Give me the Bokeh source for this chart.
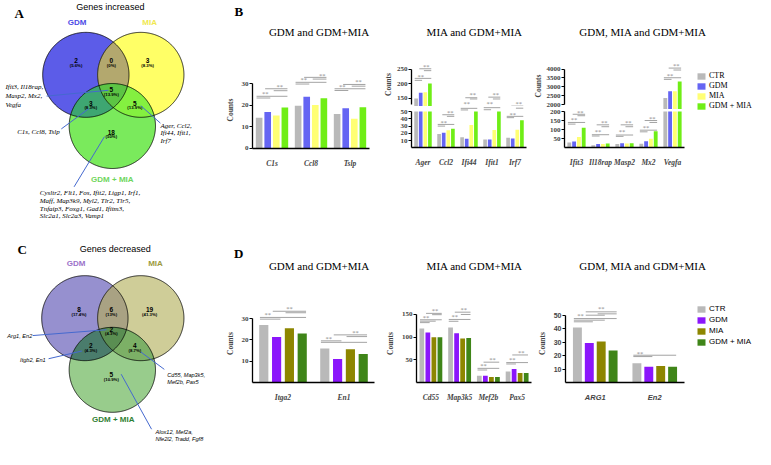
import numpy as np
from bokeh.plotting import figure
from bokeh.models import (Range1d, FactorRange, ColumnDataSource, FixedTicker,
                          Legend, LegendItem)
from bokeh.layouts import row, column
from bokeh.transform import dodge
from bokeh.core.properties import value
from bokeh.embed import file_html
from bokeh.resources import INLINE

# ============================== data ==============================
GROUPS = ["CTR", "GDM", "MIA", "GDM + MIA"]

# ---- B : genes increased (counts)
b1_genes = ["C1s", "Ccl8", "Tslp"]
b1_ctr = [14.2, 19.8, 15.9]
b1_gdm = [16.9, 24.0, 18.6]
b1_mia = [15.3, 20.2, 13.8]
b1_gdm_mia = [19.0, 23.3, 19.1]

b2_genes = ["Ager", "Ccl2", "Ifi44", "Ifit1", "Irf7"]
b2_ctr = [148, 19.0, 14.6, 11.5, 14.0]
b2_gdm = [168, 21.0, 12.5, 11.5, 13.0]
b2_mia = [170, 24.4, 31.4, 24.8, 25.0]
b2_gdm_mia = [200, 26.5, 52.0, 52.0, 38.0]

b3_genes = ["Ifit3", "Il18rap", "Masp2", "Mx2", "Vegfa"]
b3_ctr = [30, 15, 21, 23, 2378]
b3_gdm = [35.5, 22, 26, 37, 2757]
b3_mia = [60, 22, 24, 50, 2757]
b3_gdm_mia = [111, 24, 26, 92, 3297]

# ---- D : genes decreased (counts)
d1_genes = ["Itga2", "En1"]
d1_ctr = [27.0, 16.0]
d1_gdm = [21.4, 11.1]
d1_mia = [25.5, 15.6]
d1_gdm_mia = [23.0, 13.4]

d2_genes = ["Cd55", "Map3k5", "Mef2b", "Pax5"]
d2_ctr = [119.3, 121.0, 14.8, 24.6]
d2_gdm = [110.0, 108.8, 14.8, 30.0]
d2_mia = [99.6, 97.0, 12.3, 21.0]
d2_gdm_mia = [99.6, 98.4, 12.3, 21.0]

d3_genes = ["ARG1", "En2"]
d3_ctr = [40.8, 14.3]
d3_gdm = [29.3, 11.7]
d3_mia = [30.5, 12.3]
d3_gdm_mia = [23.8, 11.7]

# significance bars: (gene, from group, to group, height); stars: (gene, group pos, height)
b1_sig = [("C1s", 0, 3, 24.2), ("C1s", 0, 1, 23.4), ("C1s", 1, 3, 27.7), ("C1s", 2, 3, 26.8),
          ("Ccl8", 0, 3, 30.7), ("Ccl8", 0, 1, 29.9), ("Ccl8", 1, 3, 33.0), ("Ccl8", 2, 3, 32.2),
          ("Tslp", 0, 3, 27.7), ("Tslp", 0, 1, 26.9), ("Tslp", 1, 3, 29.7), ("Tslp", 2, 3, 28.9)]
b1_star = [("C1s", 0.7, 25.4), ("C1s", 2.4, 28.9), ("Ccl8", 0.65, 32.0), ("Ccl8", 2.8, 34.0),
           ("Tslp", 0.6, 28.9), ("Tslp", 2.5, 30.9)]
b2_sig = [("Ager", 0, 3, 217.8), ("Ager", 0, 1, 211), ("Ager", 1, 3, 251), ("Ager", 2, 3, 244.5),
          ("Ccl2", 0, 3, 32.3), ("Ccl2", 0, 1, 30.0), ("Ccl2", 1, 3, 45.6), ("Ccl2", 2, 3, 43.4),
          ("Ifi44", 0, 3, 54.4), ("Ifi44", 0, 1, 52.2), ("Ifi44", 1, 3, 151), ("Ifi44", 2, 3, 146.7),
          ("Ifit1", 0, 3, 55.3), ("Ifit1", 0, 1, 52.5), ("Ifit1", 1, 3, 153), ("Ifit1", 2, 3, 146.7),
          ("Irf7", 0, 3, 43.4), ("Irf7", 0, 1, 41.6), ("Irf7", 1, 3, 122), ("Irf7", 2, 3, 54.6)]
b2_star = [("Ager", 1.0, 225.6), ("Ager", 2.2, 260), ("Ccl2", 1.0, 35.4), ("Ccl2", 2.4, 48.0),
           ("Ifi44", 1.0, 132), ("Ifi44", 2.3, 161), ("Ifit1", 1.0, 132), ("Ifit1", 2.3, 161),
           ("Irf7", 1.0, 46.0), ("Irf7", 2.3, 132)]
b3_sig = [("Ifit3", 0, 3, 140), ("Ifit3", 0, 1, 131), ("Ifit3", 1, 3, 185), ("Ifit3", 2, 3, 177),
          ("Il18rap", 0, 3, 72.7), ("Il18rap", 0, 1, 65.6), ("Il18rap", 1, 3, 127), ("Il18rap", 2, 3, 116.7),
          ("Masp2", 0, 3, 71), ("Masp2", 0, 1, 63.7), ("Masp2", 1, 3, 127), ("Masp2", 2, 3, 116.7),
          ("Mx2", 0, 3, 97.6), ("Mx2", 0, 1, 88.6), ("Mx2", 1, 3, 150.7), ("Mx2", 2, 3, 140),
          ("Vegfa", 0, 3, 3514), ("Vegfa", 0, 1, 3423), ("Vegfa", 1, 3, 4054), ("Vegfa", 2, 3, 3946)]
b3_star = [("Ifit3", 1.0, 154), ("Ifit3", 2.3, 196), ("Il18rap", 1.0, 88.6), ("Il18rap", 2.3, 141.6),
           ("Masp2", 1.0, 88.6), ("Masp2", 2.3, 141.6), ("Mx2", 1.0, 111.4), ("Mx2", 2.3, 164.5),
           ("Vegfa", 1.0, 3638), ("Vegfa", 2.3, 4180)]
d1_sig = [("Itga2", 0, 3, 30.6), ("Itga2", 0, 1, 29.8), ("Itga2", 1, 3, 33.5), ("Itga2", 2, 3, 32.8),
          ("En1", 0, 1, 19.6), ("En1", 0, 3, 18.9), ("En1", 1, 3, 22.4), ("En1", 2, 3, 21.6)]
d1_star = [("Itga2", 0.3, 31.8), ("Itga2", 2.0, 34.7), ("En1", 0.3, 20.6), ("En1", 2.4, 23.6)]
d2_sig = [("Cd55", 0, 3, 138.3), ("Cd55", 0, 2, 135.2), ("Cd55", 0, 1, 132), ("Cd55", 1, 3, 152.4), ("Cd55", 2, 3, 149.5),
          ("Map3k5", 0, 3, 139), ("Map3k5", 0, 1, 135), ("Map3k5", 1, 3, 155), ("Map3k5", 2, 3, 150),
          ("Mef2b", 0, 3, 31.3), ("Mef2b", 0, 1, 27.7), ("Mef2b", 1, 3, 44.9),
          ("Pax5", 0, 3, 44), ("Pax5", 0, 1, 41), ("Pax5", 1, 3, 60.8)]
d2_star = [("Cd55", 0.7, 143.8), ("Cd55", 2.2, 158.6), ("Map3k5", 0.7, 145), ("Map3k5", 2.2, 160.4),
           ("Mef2b", 0.7, 36.9), ("Mef2b", 2.2, 50.4), ("Pax5", 0.7, 50.4), ("Pax5", 2.2, 65.8)]
d3_sig = [("ARG1", 0, 3, 47.5), ("ARG1", 0, 2, 46.3), ("ARG1", 0, 1, 45.1), ("ARG1", 1, 3, 52.5),
          ("ARG1", 2, 3, 51), ("ARG1", 1, 2, 50), ("En2", 0, 3, 20.3), ("En2", 0, 1, 19.3)]
d3_star = [("ARG1", 0.25, 49.6), ("ARG1", 2.0, 54.7), ("En2", 0.25, 21.9)]

# ---- Venn diagrams
inc_counts = ["2", "0", "3", "5", "3", "5", "18"]
inc_pcts = ["(5.6%)", "(0%)", "(8.3%)", "(13.9%)", "(8.3%)", "(13.9%)", "(50%)"]
dec_counts = ["8", "6", "19", "2", "2", "4", "5"]
dec_pcts = ["(17.4%)", "(13%)", "(41.3%)", "(4.3%)", "(4.3%)", "(8.7%)", "(10.9%)"]

inc_list_all = ["Ifit3, Il18rap,", "Masp2, Mx2,", "Vegfa"]
inc_list_gdm = ["C1s, Ccl8, Tslp"]
inc_list_mia = ["Ager, Ccl2,", "Ifi44, Ifit1,", "Irf7"]
inc_list_only = ["Cysltr2, Flt1, Fos, Ifit2, Ligp1, Irf1,", "Maff, Map3k9, Myl2, Tlr2, Tlr5,",
                 "Tnfaip3, Foxg1, Gad1, Ifitm3,", "Slc2a1, Slc2a3, Vamp1"]
dec_list_all = ["Arg1, En2"]
dec_list_gdm = ["Itgb2, En1"]
dec_list_mia = ["Cd55, Map3k5,", "Mef2b, Pax5"]
dec_list_only = ["Alox12, Mef2a,", "Nfe2l2, Tradd, Fgf8"]

# ============================== layout helpers ==============================
W_OUT, H_OUT, W_REF, H_REF = 755, 449, 771, 465
SERIF, SANS = "Liberation Serif", "Liberation Sans"
COL_UP = ["#b9b9b9", "#6565f3", "#ffff74", "#6fee16"]
COL_DOWN = ["#b9b9b9", "#8b16fb", "#8d8600", "#3f8518"]
LEFT_W = 210   # reference width of the Venn column


def ix(v):
    return int(round(v * W_OUT / W_REF))


def iy(v):
    return int(round(v * H_OUT / H_REF))


def fy(v):
    return v * H_OUT / H_REF


def base(fxr, fyr, frame, x_range, y_range, xloc="below", yloc="left"):
    fx0, fx1 = fxr
    fy0, fy1 = fyr
    px0, px1, py0, py1 = frame
    p = figure(width=ix(fx1) - ix(fx0), height=iy(fy1) - iy(fy0),
               x_range=x_range, y_range=y_range,
               x_axis_location=xloc, y_axis_location=yloc,
               output_backend="svg", toolbar_location=None,
               min_border_left=ix(px0) - ix(fx0), min_border_right=ix(fx1) - ix(px1),
               min_border_top=iy(py0) - iy(fy0), min_border_bottom=iy(fy1) - iy(py1))
    p.grid.visible = False
    p.outline_line_color = None
    return p


def plain(fxr, fyr):
    """figure whose frame fills it, with reference-pixel coordinates (y down)"""
    return base(fxr, fyr, (fxr[0], fxr[1], fyr[0], fyr[1]), Range1d(*fxr),
                Range1d(fyr[1], fyr[0]), xloc=None, yloc=None)


def val_at(t, ya, va, yb, vb):
    ta, tb = fy(ya), fy(yb)
    return va + (t - ta) * (vb - va) / (tb - ta)


def lin_range(py0, py1, ya, va, yb, vb):
    return Range1d(val_at(iy(py1), ya, va, yb, vb), val_at(iy(py0), ya, va, yb, vb))


def draw_bars(p, genes, series, colors, step, bw, cap=None):
    data = {"gene": genes}
    for j, s in enumerate(series):
        v = np.array(s, dtype=float)
        data["v%d" % j] = np.minimum(v, cap) if cap is not None else v
    src = ColumnDataSource(data)
    for j, c in enumerate(colors):
        p.vbar(x=dodge("gene", (j - 1.5) * step, range=p.x_range), top="v%d" % j,
               width=bw, source=src, fill_color=c, line_color=None)


def draw_sig(p, lines, stars, step):
    lo, hi = p.y_range.start, p.y_range.end
    lines = [l for l in lines if lo <= l[3] <= hi]
    stars = [s for s in stars if lo <= s[2] <= hi]
    if lines:
        x0 = [(g, (a - 1.5) * step - 0.3 * step) for g, a, b, y in lines]
        x1 = [(g, (b - 1.5) * step + 0.3 * step) for g, a, b, y in lines]
        yy = [y for g, a, b, y in lines]
        p.segment(x0=x0, y0=yy, x1=x1, y1=yy, line_color="#a3a3a3", line_width=1.0)
    if stars:
        sx = [(g, (gp - 1.5) * step) for g, gp, y in stars]
        sy = [y for g, gp, y in stars]
        p.text(x=sx, y=sy, text=["**"] * len(stars), text_font=value(SERIF),
               text_font_size="6.5px", text_color="#8a8a8a", text_align="center",
               text_baseline="middle")


def style_y(p, ticks, bounds, font, label=None, label_standoff=4):
    ax = p.yaxis[0]
    ax.ticker = FixedTicker(ticks=ticks, minor_ticks=[])
    ax.bounds = bounds
    ax.axis_line_width = 1.3
    ax.major_tick_line_width = 1.2
    ax.major_tick_in = 0
    ax.major_tick_out = 3
    ax.minor_tick_line_color = None
    ax.major_label_text_font = font
    ax.major_label_text_font_style = "bold"
    ax.major_label_text_font_size = "7px"
    ax.major_label_standoff = 1
    if label:
        ax.axis_label = label
        ax.axis_label_text_font = SERIF
        ax.axis_label_text_font_style = "bold"
        ax.axis_label_text_font_size = "7.5px"
        ax.axis_label_standoff = label_standoff


def style_x(p, font):
    ax = p.xaxis[0]
    ax.axis_line_width = 1.3
    ax.major_tick_line_color = None
    ax.minor_tick_line_color = None
    ax.major_label_text_font = font
    ax.major_label_text_font_style = "bold italic"
    ax.major_label_text_font_size = "7.5px"
    ax.major_label_standoff = 4


def simple_chart(fxr, fyr, frame, genes, series, colors, step, bw, ticks_ref, ticks,
                 sig, star, tick_font, gene_font):
    rng = lin_range(frame[2], frame[3], *ticks_ref)
    p = base(fxr, fyr, frame, FactorRange(*genes), rng)
    draw_bars(p, genes, series, colors, step, bw)
    draw_sig(p, sig, star, step)
    style_y(p, ticks, (ticks[0], ticks[-1]), tick_font, "Counts")
    style_x(p, gene_font)
    return p


def split_chart(fxr, frame_x, split, genes, series, up_ref, up_ticks, up_bounds, lo_ref,
                lo_ticks, sig, star, step, bw):
    xr = FactorRange(*genes)
    up = base(fxr, (45, split), (frame_x[0], frame_x[1], 64, split), xr,
              lin_range(64, split, *up_ref), xloc=None)
    lo = base(fxr, (split, 225), (frame_x[0], frame_x[1], split, 152.7), xr,
              lin_range(split, 152.7, *lo_ref))
    draw_bars(up, genes, series, COL_UP, step, bw)
    draw_bars(lo, genes, series, COL_UP, step, bw, cap=lo_ticks[-1])
    draw_sig(up, sig, star, step)
    draw_sig(lo, sig, star, step)
    style_y(up, up_ticks, up_bounds, SERIF, "Counts", 1)
    style_y(lo, lo_ticks, (lo_ticks[0], lo_ticks[-1]), SERIF)
    style_x(lo, SERIF)
    return column(up, lo)


def legend_fig(fyr, top_ref, colors, font, size, spacing):
    p = base((705, 771), fyr, (711, 771, top_ref, fyr[1]), Range1d(0, 1), Range1d(0, 1),
             xloc=None, yloc=None)
    items = []
    for g, c in zip(GROUPS, colors):
        # swatch handle only (kept outside the visible range)
        r = p.rect(x=[-5], y=[-5], width=1, height=1, fill_color=c, line_color=None)
        items.append(LegendItem(label=g, renderers=[r]))
    leg = Legend(items=items, location="top_left", margin=0, padding=0, spacing=spacing,
                 glyph_width=10, glyph_height=8, label_height=8, label_standoff=3,
                 label_text_font=font, label_text_font_size=size, label_text_color="black",
                 border_line_color=None, background_fill_alpha=0)
    p.add_layout(leg)
    return p


def circle_pts(c, n=400):
    t = np.linspace(0, 2 * np.pi, n, endpoint=False)
    return c[0] + c[2] * np.cos(t), c[1] + c[2] * np.sin(t)


def intersection(cs):
    xs, ys = [], []
    for i, c in enumerate(cs):
        px, py = circle_pts(c, 1440)
        m = np.ones(px.size, dtype=bool)
        for j, d in enumerate(cs):
            if j != i:
                m &= (px - d[0]) ** 2 + (py - d[1]) ** 2 <= d[2] ** 2
        xs.append(px[m])
        ys.append(py[m])
    xs = np.concatenate(xs)
    ys = np.concatenate(ys)
    o = np.argsort(np.arctan2(ys - ys.mean(), xs - xs.mean()))
    return xs[o], ys[o]


def venn(fyr, circles, fills, pair_fills, triple_fill, title, title_xy, letter, letter_xy,
         names, counts, pcts, region_xy, lists, leaders, list_font, list_size):
    p = plain((0, LEFT_W), fyr)
    for c, col in zip(circles, fills):
        x, y = circle_pts(c)
        p.patch(x, y, fill_color=col, line_color=None)
    for (i, j), col in pair_fills:
        x, y = intersection([circles[i], circles[j]])
        p.patch(x, y, fill_color=col, line_color=None)
    x, y = intersection(circles)
    p.patch(x, y, fill_color=triple_fill, line_color=None)
    for c in circles:
        x, y = circle_pts(c)
        p.patch(x, y, fill_color=None, line_color="black", line_width=0.8)
    p.text(x=[title_xy[0]], y=[title_xy[1]], text=[title], text_font=value(SANS),
           text_font_size="9px", text_align="center", text_baseline="middle", text_color="black")
    p.text(x=[letter_xy[0]], y=[letter_xy[1]], text=[letter], text_font=value(SERIF),
           text_font_size="13px", text_font_style="bold", text_align="center",
           text_baseline="middle", text_color="black")
    for name, nx, ny, ncol in names:
        p.text(x=[nx], y=[ny], text=[name], text_font=value(SANS), text_font_size="8px",
               text_font_style="bold", text_color=ncol, text_align="center", text_baseline="middle")
    rx = [xy[0] for xy in region_xy]
    ry = [xy[1] for xy in region_xy]
    p.text(x=rx, y=[v - 0.5 for v in ry], text=counts, text_font=value(SANS), text_font_size="6.5px",
           text_font_style="bold", text_align="center", text_baseline="middle", text_color="black")
    p.text(x=rx, y=[v + 4.0 for v in ry], text=pcts, text_font=value(SANS), text_font_size="4.3px",
           text_font_style="bold", text_align="center", text_baseline="middle", text_color="black")
    for lx, ly, dy, lines in lists:
        p.text(x=[lx] * len(lines), y=[ly + k * dy for k in range(len(lines))], text=lines,
               text_font=value(list_font), text_font_size=list_size, text_font_style="italic",
               text_align="left", text_baseline="middle", text_color="black")
    p.segment(x0=[l[0] for l in leaders], y0=[l[1] for l in leaders],
              x1=[l[2] for l in leaders], y1=[l[3] for l in leaders],
              line_color="#4569cf", line_width=1.0)
    return p


def header(fyr, letter, letter_xy, titles):
    p = plain((LEFT_W, 771), fyr)
    p.text(x=[letter_xy[0]], y=[letter_xy[1]], text=[letter], text_font=value(SERIF),
           text_font_size="13px", text_font_style="bold", text_align="center",
           text_baseline="middle", text_color="black")
    p.text(x=[t[1] for t in titles], y=[t[2] for t in titles], text=[t[0] for t in titles],
           text_font=value(SERIF), text_font_size="11px", text_align="center",
           text_baseline="middle", text_color="black")
    return p


# ============================== build ==============================
vennA = venn((0, 232), [(87, 77, 44), (143, 77, 44), (114, 130, 44)],
             ["#5c5ce8", "#ffff66", "#7aea5c"],
             [((0, 1), "#b3a86e"), ((0, 2), "#3ea672"), ((1, 2), "#84f040")], "#5cc444",
             "Genes increased", (112, 7), "A", (19, 13),
             [("GDM", 78, 23, "#4b4be6"), ("MIA", 152, 23, "#f0e850"), ("GDM + MIA", 114, 185, "#6fd65c")],
             inc_counts, inc_pcts,
             [(77, 63), (113, 63), (150, 63), (113, 93), (92, 107), (137, 107), (113, 137)],
             [(5, 90, 9.2, inc_list_all), (17, 136, 0, inc_list_gdm), (163, 130, 7.5, inc_list_mia),
              (40, 199.3, 8.1, inc_list_only)],
             [(47, 99, 110, 93), (62, 133, 90, 112), (163, 127, 143, 109), (75, 193, 106, 141)],
             SERIF, "7px")

vennC = venn((232, 465), [(86, 329, 44), (143, 329, 44), (114, 382.5, 44)],
             ["#9690cf", "#cfcd98", "#98cc8c"],
             [((0, 1), "#a9a283"), ((0, 2), "#4a7c6c"), ((1, 2), "#7cb066")], "#5a8e52",
             "Genes decreased", (117, 257), "C", (22, 258),
             [("GDM", 77, 272, "#9b72c9"), ("MIA", 158, 272, "#9c9a3e"), ("GDM + MIA", 115, 434, "#2f7f33")],
             dec_counts, dec_pcts,
             [(80, 321), (113, 321), (152, 321), (113, 341), (92, 358), (137, 358), (113, 388)],
             [(7, 347, 0, dec_list_all), (20, 372, 0, dec_list_gdm), (170, 388, 7.5, dec_list_mia),
              (158, 447, 7.5, dec_list_only)],
             [(33, 347, 108, 341), (49, 371, 83, 363), (167, 382, 143, 364), (154, 444, 123, 387)],
             SANS, "5.6px")

headB = header((0, 45), "B", (243, 12),
               [("GDM and GDM+MIA", 325, 33), ("MIA and GDM+MIA", 484, 33),
                ("GDM, MIA and GDM+MIA", 656, 33)])
headD = header((225, 285), "D", (243, 262),
               [("GDM and GDM+MIA", 325, 275), ("MIA and GDM+MIA", 484, 275),
                ("GDM, MIA and GDM+MIA", 656, 275)])

B1 = simple_chart((LEFT_W, 388), (45, 225), (257, 377, 56, 153), b1_genes,
                  [b1_ctr, b1_gdm, b1_mia, b1_gdm_mia], COL_UP, 0.22, 0.17,
                  (153, 0, 71.5, 30), [0, 10, 20, 30], b1_sig, b1_star, SERIF, SERIF)
B2 = split_chart((388, 541), (413, 537), 110, b2_genes, [b2_ctr, b2_gdm, b2_mia, b2_gdm_mia],
                 (101, 150, 71, 250), [150, 200, 250], (126, 250),
                 (152.7, 0, 115, 50), [0, 10, 20, 30, 40, 50], b2_sig, b2_star, 0.2, 0.16)
B3 = split_chart((541, 705), (571, 698), 112.5, b3_genes, [b3_ctr, b3_gdm, b3_mia, b3_gdm_mia],
                 (108, 2000, 71, 4000), [2000, 2500, 3000, 3500, 4000], (2000, 4000),
                 (152.7, 0, 115, 200), [0, 50, 100, 150, 200], b3_sig, b3_star, 0.2, 0.16)
legB = legend_fig((45, 225), 74, COL_UP, SERIF, "8px", 1)

D1 = simple_chart((LEFT_W, 390), (285, 465), (257, 382, 296, 395.7), d1_genes,
                  [d1_ctr, d1_gdm, d1_mia, d1_gdm_mia], COL_DOWN, 0.21, 0.15,
                  (395.7, 0, 314.3, 30), [0, 10, 20, 30], d1_sig, d1_star, SERIF, SERIF)
D2 = simple_chart((390, 545), (285, 465), (416, 542, 302, 395.7), d2_genes,
                  [d2_ctr, d2_gdm, d2_mia, d2_gdm_mia], COL_DOWN, 0.21, 0.165,
                  (395.7, 0, 314.3, 150), [0, 50, 100, 150], d2_sig, d2_star, SERIF, SERIF)
D3 = simple_chart((545, 705), (285, 465), (573, 699, 301, 395.7), d3_genes,
                  [d3_ctr, d3_gdm, d3_mia, d3_gdm_mia], COL_DOWN, 0.2, 0.15,
                  (395.7, 0, 314.3, 50), [0, 10, 20, 30, 40, 50], d3_sig, d3_star, SANS, SANS)
legD = legend_fig((285, 465), 315, COL_DOWN, SANS, "8px", 2)

left = column(vennA, vennC)
right = column(headB, row(B1, B2, B3, legB), headD, row(D1, D2, D3, legD))
layout = row(left, right)

open("out.html", "w").write(file_html(layout, INLINE))
